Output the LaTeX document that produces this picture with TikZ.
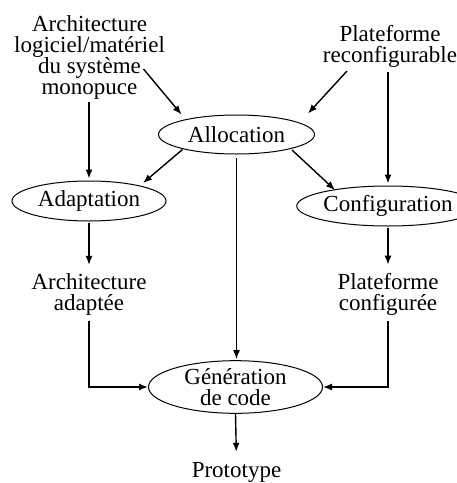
\documentclass[tikz,border=0pt]{standalone}
\usepackage{fontspec}
\setmainfont{Liberation Serif}
\usetikzlibrary{shapes.geometric,arrows.meta,calc}
\begin{document}
\begin{tikzpicture}[x=1pt,y=-1pt,
  txt/.style={align=center,inner sep=0pt,font=\fontsize{23}{21}\selectfont},
  ell/.style={ellipse,draw,line width=1pt,inner sep=0pt,align=center,font=\fontsize{23}{21}\selectfont},
  arr/.style={line width=1.4pt,-{Latex[length=9pt,width=7pt]}}]
\useasboundingbox (0,0) rectangle (457,483);
\node[txt] (arch) at (89.5,57) {Architecture\\logiciel/matériel\\du système\\monopuce};
\node[txt] (plat) at (390,46.5) {Plateforme\\reconfigurable};
\node[ell,minimum width=156pt,minimum height=39pt] (alloc) at (236.5,134.5) {Allocation};
\node[ell,minimum width=154pt,minimum height=40pt] (adapt) at (89,201) {Adaptation};
\node[ell,minimum width=150pt,minimum height=40pt] (config) at (388,206) {Configuration};
\node[txt] (archad) at (89,294) {Architecture\\adaptée};
\node[txt] (platconf) at (388,294) {Plateforme\\configurée};
\node[ell,minimum width=174pt,minimum height=52pt] (gen) at (235.5,387) {Génération\\de code};
\node[txt] (proto) at (236.5,472) {Prototype};

\draw[arr,shorten <=3pt,shorten >=2pt] (arch.south -| adapt.north) -- (adapt.north);
\draw[arr] ($(arch)+(54,12)$) -- ($(alloc)+(-55,-20)$);
\draw[arr] ($(plat)+(-43,24.5)$) -- ($(alloc)+(71.5,-21)$);
\draw[arr,shorten <=4pt,shorten >=2pt] (plat.south -| config.north) -- (config.north);
\draw[arr] ($(alloc)+(-54,15)$) -- ($(adapt)+(54,-18)$);
\draw[arr] ($(alloc)+(55.5,15.5)$) -- ($(config)+(-53,-16)$);
\draw[arr,shorten <=3pt,shorten >=1pt] (alloc.south) -- (alloc.south |- gen.north);
\draw[arr,shorten <=1pt,shorten >=8pt] (adapt.south) -- (archad.north);
\draw[arr,shorten <=1pt,shorten >=8pt] (config.south) -- (platconf.north);
\draw[arr,shorten <=6pt] (archad.south) |- (gen.west);
\draw[arr,shorten <=6pt] (platconf.south) |- (gen.east);
\draw[arr,shorten >=10pt] (gen.south) -- (proto.north);
\end{tikzpicture}
\end{document}
